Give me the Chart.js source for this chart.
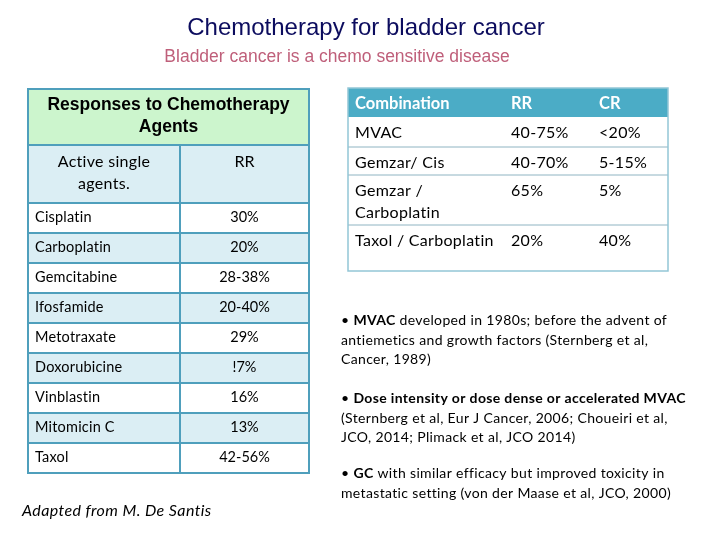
<!DOCTYPE html>
<html>
<head>
<meta charset="utf-8" />
<title>Chemotherapy for bladder cancer</title>
<script src="https://cdn.jsdelivr.net/npm/chart.js@4.4.1/dist/chart.umd.min.js"></script>
<style>
  html, body { margin: 0; padding: 0; background: #fff; }
  #slide { display: block; }
</style>
</head>
<body>
<canvas id="slide" width="720" height="540"></canvas>
<script>
// single agent table
const singleAgents = ['Cisplatin', 'Carboplatin', 'Gemcitabine', 'Ifosfamide', 'Metotraxate', 'Doxorubicine', 'Vinblastin', 'Mitomicin C', 'Taxol'];
const singleRR = ['30%', '20%', '28-38%', '20-40%', '29%', '!7%', '16%', '13%', '42-56%'];

// combination table
const comboHeader = ['Combination', 'RR', 'CR'];
const combos = [['MVAC'], ['Gemzar/ Cis'], ['Gemzar /', 'Carboplatin'], ['Taxol / Carboplatin']];
const comboRR = ['40-75%', '40-70%', '65%', '20%'];
const comboCR = ['<20%', '5-15%', '5%', '40%'];

// bullets: each line is a list of [text, bold]
const bullets = [
  [[['\u2022 ', false], ['MVAC', true], [' developed in 1980s; before the advent of', false]],
   [['antiemetics and growth factors (Sternberg et al,', false]],
   [['Cancer, 1989)', false]]],
  [[['\u2022 ', false], ['Dose intensity or dose dense or accelerated MVAC', true]],
   [['(Sternberg et al, Eur J Cancer, 2006; Choueiri et al,', false]],
   [['JCO, 2014; Plimack et al, JCO 2014)', false]]],
  [[['\u2022 ', false], ['GC', true], [' with similar efficacy but improved toxicity in', false]],
   [['metastatic setting (von der Maase et al, JCO, 2000)', false]]]
];

const BODY = 'Lato, "Open Sans", sans-serif';
const ARIAL = '"Liberation Sans", Arial, sans-serif';

const slidePlugin = {
  id: 'slide',
  afterDraw(chart) {
    const ctx = chart.ctx;
    const sx = chart.scales.x, sy = chart.scales.y;
    const X = v => sx.getPixelForValue(v);
    const Y = v => sy.getPixelForValue(v);

    function rect(x0, y0, x1, y1, fill) {
      ctx.fillStyle = fill;
      ctx.fillRect(X(x0), Y(y0), X(x1) - X(x0), Y(y1) - Y(y0));
    }
    function line(x0, y0, x1, y1, color, w) {
      ctx.strokeStyle = color; ctx.lineWidth = w;
      ctx.beginPath(); ctx.moveTo(X(x0), Y(y0)); ctx.lineTo(X(x1), Y(y1)); ctx.stroke();
    }
    function text(t, x, y, font, color, align, spacing) {
      ctx.font = font; ctx.fillStyle = color; ctx.textAlign = align || 'left';
      ctx.textBaseline = 'alphabetic';
      ctx.letterSpacing = (spacing || 0) + 'px';
      ctx.fillText(t, X(x), Y(y));
      const w = ctx.measureText(t).width;
      ctx.letterSpacing = '0px';
      return w;
    }

    ctx.save();

    // titles
    text('Chemotherapy for bladder cancer', 366, 35, '24px ' + ARIAL, '#0c0c5e', 'center');
    text('Bladder cancer is a chemo sensitive disease', 337, 62, '17.5px ' + ARIAL, '#bf5f7a', 'center');

    // ---- left table ----
    const L0 = 28, L1 = 180, L2 = 309;
    const blue = '#dbeef4', green = '#ccf5cd', border = '#4f9fbc';
    rect(L0, 89, L2, 145, green);
    rect(L0, 145, L2, 203, blue);
    singleAgents.forEach((a, i) => {
      const top = 203 + i * 30;
      rect(L0, top, L2, top + 30, i % 2 ? blue : '#ffffff');
    });
    const bottom = 203 + singleAgents.length * 30;
    text('Responses to Chemotherapy', (L0 + L2) / 2, 110, 'bold 17.5px ' + ARIAL, '#000', 'center');
    text('Agents', (L0 + L2) / 2, 132, 'bold 17.5px ' + ARIAL, '#000', 'center');
    text('Active single', (L0 + L1) / 2, 167, '16px ' + BODY, '#000', 'center', 0.3);
    text('agents.', (L0 + L1) / 2, 189, '16px ' + BODY, '#000', 'center', 0.3);
    text('RR', (L1 + L2) / 2, 167, '16px ' + BODY, '#000', 'center');
    singleAgents.forEach((a, i) => {
      const top = 203 + i * 30;
      text(a, 35, top + 19, '14.5px ' + BODY, '#000', 'left', 0.2);
      text(singleRR[i], (L1 + L2) / 2, top + 19, '14.5px ' + BODY, '#000', 'center');
    });
    // grid lines
    line(L0, 145, L2, 145, border, 2);
    line(L0, 203, L2, 203, border, 2);
    for (let i = 1; i < singleAgents.length; i++) {
      line(L0, 203 + i * 30, L2, 203 + i * 30, border, 2);
    }
    line(L1, 145, L1, bottom, border, 2);
    ctx.strokeStyle = border; ctx.lineWidth = 2;
    ctx.strokeRect(X(L0), Y(89), X(L2) - X(L0), Y(bottom) - Y(89));

    // ---- right table ----
    const R0 = 348, R1 = 668;
    const colX = [355, 511, 599];
    const rowTops = [117, 147, 175, 225, 271];
    rect(R0, 88, R1, 117, '#4bacc6');
    comboHeader.forEach((h, j) => text(h, colX[j], 109, 'bold 16.5px ' + BODY, '#ffffff', 'left'));
    combos.forEach((c, i) => {
      const top = rowTops[i];
      c.forEach((ln, k) => text(ln, colX[0], top + 21 + k * 22, '16px ' + BODY, '#000', 'left', 0.3));
      text(comboRR[i], colX[1], top + 21, '16px ' + BODY, '#000', 'left', 0.3);
      text(comboCR[i], colX[2], top + 21, '16px ' + BODY, '#000', 'left', 0.3);
      if (i > 0) line(R0, top, R1, top, '#8fb4c2', 1);
    });
    ctx.strokeStyle = '#93c6d6'; ctx.lineWidth = 1.5;
    ctx.strokeRect(X(R0), Y(88), X(R1) - X(R0), Y(271) - Y(88));

    // ---- bullets ----
    const paraTops = [325, 403, 478];
    bullets.forEach((para, p) => {
      para.forEach((ln, k) => {
        let x = 341;
        const y = paraTops[p] + k * 19.5;
        ln.forEach(([t, b]) => {
          x += text(t, x, y, (b ? 'bold ' : '') + '14px ' + BODY, '#000', 'left', 0.35);
        });
      });
    });

    // source note
    text('Adapted from M. De Santis', 22, 516, 'italic 16px ' + BODY, '#000', 'left', 0.4);

    ctx.restore();
  }
};

new Chart(document.getElementById('slide'), {
  type: 'scatter',
  data: { datasets: [{ data: [] }] },
  options: {
    responsive: false,
    animation: false,
    layout: { padding: 0 },
    plugins: { legend: { display: false }, tooltip: { enabled: false } },
    scales: {
      x: { type: 'linear', min: 0, max: 720, display: false },
      y: { type: 'linear', min: 0, max: 540, reverse: true, display: false }
    }
  },
  plugins: [slidePlugin]
});
</script>
</body>
</html>
